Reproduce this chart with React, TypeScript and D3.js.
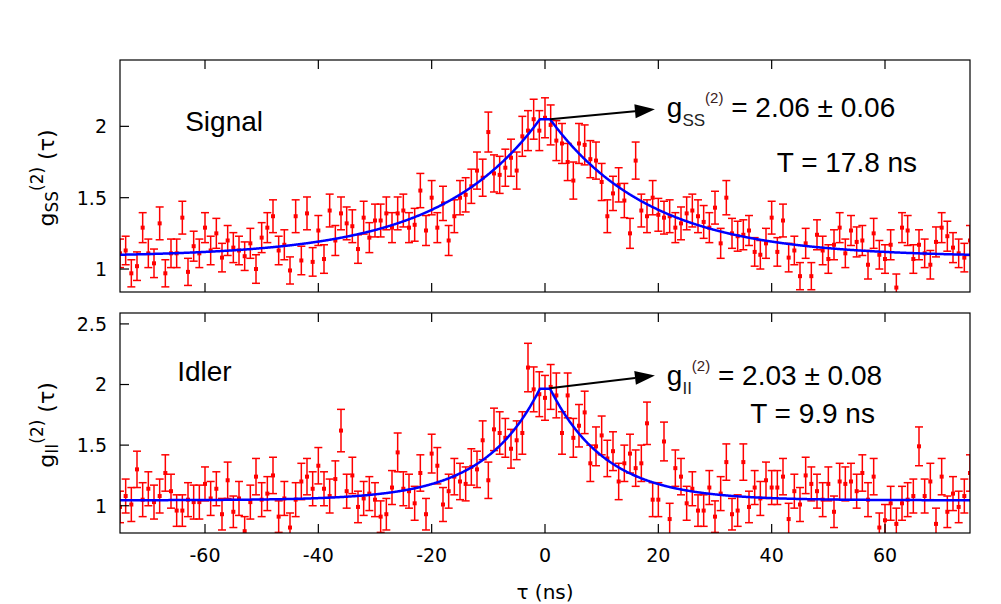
import React from 'react';
import * as d3 from 'd3';

const W = 1001;
const H = 604;

// Delay axis (ns): one point per ns from -75 to 75
const TAU_START = -75;
const TAU_END = 75;
const TAU_TICKS = [-60, -40, -20, 0, 20, 40, 60];

const SIGNAL_TICKS = [1, 1.5, 2];
const IDLER_TICKS = [1, 1.5, 2, 2.5];

// Signal g(2) measured values, tau = -75 ... 75
const SIGNAL_VALUES = [
  1.11, 1.13, 0.97, 1.02, 1.29, 1.11, 1.04, 1.32, 0.97, 1.11,
  1.11, 1.36, 0.98, 1.16, 1.11, 1.29, 1.13, 1.25, 1.08, 1.20,
  1.15, 1.13, 1.09, 1.18, 1.00, 1.22, 1.29, 1.37, 1.13, 1.17,
  0.99, 1.37, 1.06, 1.39, 1.05, 1.27, 1.07, 1.41, 1.20, 1.39,
  1.32, 1.30, 1.14, 1.36, 1.22, 1.34, 1.34, 1.39, 1.29, 1.39,
  1.41, 1.29, 1.31, 1.55, 1.27, 1.50, 1.29, 1.46, 1.20, 1.37,
  1.50, 1.52, 1.58, 1.69, 1.64, 1.96, 1.67, 1.66, 1.71, 1.78,
  1.69, 1.93, 1.97, 2.05, 1.97, 2.06, 2.01, 1.90, 1.88, 1.75,
  1.62, 1.88, 1.87, 1.77, 1.76, 1.61, 1.37, 1.53, 1.59, 1.48,
  1.25, 1.76, 1.41, 1.37, 1.50, 1.38, 1.36, 1.37, 1.29, 1.32,
  1.39, 1.41, 1.37, 1.33, 1.29, 1.43, 1.18, 1.50, 1.25, 1.23,
  1.24, 1.27, 1.12, 1.10, 1.18, 1.36, 1.12, 1.34, 1.08, 1.13,
  0.95, 1.18, 0.95, 1.24, 1.13, 1.07, 1.17, 1.29, 1.11, 1.27,
  1.19, 1.20, 1.03, 1.25, 1.10, 1.07, 1.17, 0.87, 1.29, 1.27,
  1.07, 1.17, 1.11, 1.03, 1.19, 1.29, 1.23, 1.15, 1.11, 1.08,
  1.20,
];
const SIGNAL_ERRORS = [
  0.10, 0.10, 0.095, 0.10, 0.105, 0.10, 0.10, 0.115, 0.095, 0.10,
  0.10, 0.115, 0.095, 0.105, 0.10, 0.105, 0.10, 0.105, 0.10, 0.105,
  0.105, 0.10, 0.10, 0.105, 0.10, 0.105, 0.105, 0.115, 0.10, 0.105,
  0.095, 0.115, 0.10, 0.115, 0.10, 0.105, 0.10, 0.115, 0.105, 0.115,
  0.115, 0.115, 0.10, 0.115, 0.105, 0.115, 0.115, 0.115, 0.105, 0.115,
  0.115, 0.105, 0.115, 0.12, 0.105, 0.12, 0.105, 0.12, 0.105, 0.115,
  0.12, 0.12, 0.12, 0.13, 0.13, 0.14, 0.13, 0.13, 0.13, 0.13,
  0.13, 0.14, 0.14, 0.14, 0.14, 0.14, 0.14, 0.14, 0.14, 0.13,
  0.13, 0.14, 0.14, 0.13, 0.13, 0.13, 0.115, 0.12, 0.12, 0.12,
  0.105, 0.13, 0.115, 0.115, 0.12, 0.115, 0.115, 0.115, 0.105, 0.115,
  0.115, 0.115, 0.115, 0.115, 0.105, 0.115, 0.105, 0.12, 0.105, 0.105,
  0.105, 0.105, 0.10, 0.10, 0.105, 0.115, 0.10, 0.115, 0.10, 0.10,
  0.095, 0.105, 0.095, 0.105, 0.10, 0.10, 0.105, 0.105, 0.10, 0.105,
  0.105, 0.105, 0.10, 0.105, 0.10, 0.10, 0.105, 0.095, 0.105, 0.105,
  0.10, 0.105, 0.10, 0.10, 0.105, 0.105, 0.105, 0.105, 0.10, 0.10,
  0.105,
];

// Idler g(2) measured values, tau = -75 ... 75
const IDLER_VALUES = [
  0.99, 1.08, 1.01, 1.30, 1.05, 1.14, 1.03, 1.08, 1.27, 1.12,
  0.96, 0.96, 1.05, 1.03, 1.03, 1.18, 1.06, 1.14, 0.93, 1.21,
  0.95, 1.06, 0.79, 1.03, 1.24, 1.05, 1.10, 1.25, 0.91, 1.06,
  0.82, 1.05, 1.20, 1.24, 1.14, 1.33, 1.14, 1.08, 1.22, 1.62,
  1.12, 1.25, 0.99, 1.06, 1.10, 1.05, 0.91, 0.93, 1.15, 1.44,
  1.14, 1.12, 1.02, 1.27, 0.93, 1.43, 1.33, 1.01, 1.12, 1.24,
  1.20, 1.18, 1.32, 1.30, 1.54, 1.21, 1.63, 1.60, 1.56, 1.47,
  1.54, 1.60, 2.14, 1.96, 1.92, 1.89, 1.98, 1.91, 1.60, 1.91,
  1.56, 1.66, 1.77, 1.35, 1.49, 1.58, 1.39, 1.45, 1.20, 1.35,
  1.43, 1.31, 1.35, 1.68, 1.05, 1.05, 1.53, 0.89, 1.31, 1.24,
  1.02, 1.14, 0.96, 0.96, 1.15, 0.91, 1.10, 1.36, 0.93, 0.96,
  1.36, 0.99, 1.15, 1.06, 1.21, 1.15, 1.15, 1.24, 0.89, 1.12,
  1.01, 1.25, 1.18, 1.12, 1.05, 1.18, 0.95, 1.20, 1.18, 1.20,
  1.12, 1.27, 1.05, 1.24, 0.82, 0.88, 1.02, 0.85, 1.02, 1.05,
  1.08, 1.49, 1.08, 1.20, 0.85, 1.24, 0.95, 1.10, 0.99, 1.08,
  1.27,
];
const IDLER_ERRORS = [
  0.13, 0.14, 0.14, 0.15, 0.14, 0.14, 0.14, 0.14, 0.15, 0.14,
  0.13, 0.13, 0.14, 0.14, 0.14, 0.14, 0.14, 0.14, 0.13, 0.15,
  0.13, 0.14, 0.12, 0.14, 0.15, 0.14, 0.14, 0.15, 0.13, 0.14,
  0.12, 0.14, 0.15, 0.15, 0.14, 0.15, 0.14, 0.14, 0.15, 0.175,
  0.14, 0.15, 0.13, 0.14, 0.14, 0.14, 0.13, 0.13, 0.14, 0.16,
  0.14, 0.14, 0.14, 0.15, 0.13, 0.16, 0.15, 0.14, 0.14, 0.15,
  0.15, 0.14, 0.15, 0.15, 0.16, 0.15, 0.175, 0.175, 0.16, 0.16,
  0.16, 0.175, 0.20, 0.185, 0.185, 0.185, 0.185, 0.185, 0.175, 0.185,
  0.16, 0.175, 0.175, 0.15, 0.16, 0.16, 0.15, 0.16, 0.15, 0.15,
  0.16, 0.15, 0.15, 0.175, 0.14, 0.14, 0.16, 0.13, 0.15, 0.15,
  0.14, 0.14, 0.13, 0.13, 0.14, 0.13, 0.14, 0.15, 0.13, 0.13,
  0.15, 0.13, 0.14, 0.14, 0.15, 0.14, 0.14, 0.15, 0.13, 0.14,
  0.14, 0.15, 0.14, 0.14, 0.14, 0.14, 0.13, 0.15, 0.14, 0.15,
  0.14, 0.15, 0.14, 0.15, 0.12, 0.13, 0.14, 0.13, 0.14, 0.14,
  0.14, 0.16, 0.14, 0.15, 0.13, 0.15, 0.13, 0.14, 0.13, 0.14,
  0.15,
];

// Fit parameters: g(2)(tau) = base + amp * exp(-(|tau| - flat)/T)
const SIGNAL_FIT = { base: 1.085, amp: 0.965, T: 17.8, flat: 0.9 };
const IDLER_FIT = { base: 1.045, amp: 0.92, T: 9.9, flat: 0.9 };

const AXIS_FONT = 'DejaVu Sans, Verdana, sans-serif';
const ANNOT_FONT = 'Liberation Sans, Arial, Helvetica, sans-serif';

const PLOT_LEFT = 120;
const PLOT_RIGHT = 970;

type PanelProps = {
  id: string;
  top: number;
  bottom: number;
  domain: [number, number];
  values: number[];
  errors: number[];
  fit: { base: number; amp: number; T: number; flat: number };
  ticks: number[];
  sub: string;
  name: string;
  nameAt: [number, number];
  gAt: [number, number];
  valueText: string;
  tText: string;
  tAt: [number, number];
  arrowFrom: [number, number];
  arrowTo: [number, number];
  showXLabels: boolean;
};

function Panel(p: PanelProps) {
  const x = d3.scaleLinear().domain([TAU_START, TAU_END]).range([PLOT_LEFT, PLOT_RIGHT]);
  const y = d3.scaleLinear().domain(p.domain).range([p.bottom, p.top]);
  const taus = d3.range(TAU_START, TAU_END + 1);

  const fitFn = (t: number) =>
    p.fit.base + p.fit.amp * Math.exp(-Math.max(Math.abs(t) - p.fit.flat, 0) / p.fit.T);
  const fitTaus = d3.range(TAU_START, TAU_END + 0.001, 0.1);
  const line = d3
    .line<number>()
    .x((t) => x(t))
    .y((t) => y(fitFn(t)));

  const tick = 9;
  const cap = 4;

  const ax0 = x(p.arrowFrom[0]);
  const ay0 = y(p.arrowFrom[1]);
  const ax1 = x(p.arrowTo[0]);
  const ay1 = y(p.arrowTo[1]);
  const ang = Math.atan2(ay1 - ay0, ax1 - ax0);
  const headLen = 20;
  const headW = 7;
  const bx = ax1 - headLen * Math.cos(ang);
  const by = ay1 - headLen * Math.sin(ang);
  const head = [
    [ax1, ay1],
    [bx + headW * Math.sin(ang), by - headW * Math.cos(ang)],
    [bx - headW * Math.sin(ang), by + headW * Math.cos(ang)],
  ]
    .map((q) => q.join(','))
    .join(' ');

  return (
    <g>
      <defs>
        <clipPath id={`clip-${p.id}`}>
          <rect x={PLOT_LEFT} y={p.top} width={PLOT_RIGHT - PLOT_LEFT} height={p.bottom - p.top} />
        </clipPath>
      </defs>

      {/* data */}
      <g clipPath={`url(#clip-${p.id})`}>
        {taus.map((t, i) => {
          const v = p.values[i];
          const e = p.errors[i];
          const cx = x(t);
          const y0 = y(v - e);
          const y1 = y(v + e);
          return (
            <g key={t} stroke="#ff0000" strokeWidth={1.5}>
              <line x1={cx} x2={cx} y1={y0} y2={y1} />
              <line x1={cx - cap} x2={cx + cap} y1={y0} y2={y0} />
              <line x1={cx - cap} x2={cx + cap} y1={y1} y2={y1} />
            </g>
          );
        })}
        {taus.map((t, i) => (
          <rect key={t} x={x(t) - 2} y={y(p.values[i]) - 2} width={4} height={4} fill="#ff0000" />
        ))}
        <path d={line(fitTaus) || ''} fill="none" stroke="#0000ff" strokeWidth={2.5} />
      </g>

      {/* frame */}
      <rect
        x={PLOT_LEFT}
        y={p.top}
        width={PLOT_RIGHT - PLOT_LEFT}
        height={p.bottom - p.top}
        fill="none"
        stroke="#000"
        strokeWidth={1.2}
      />
      {TAU_TICKS.map((t) => (
        <g key={t} stroke="#000" strokeWidth={1.2}>
          <line x1={x(t)} x2={x(t)} y1={p.bottom} y2={p.bottom - tick} />
          <line x1={x(t)} x2={x(t)} y1={p.top} y2={p.top + tick} />
        </g>
      ))}
      {p.ticks.map((v) => (
        <g key={v}>
          <line x1={PLOT_LEFT} x2={PLOT_LEFT + tick} y1={y(v)} y2={y(v)} stroke="#000" strokeWidth={1.2} />
          <text
            x={PLOT_LEFT - 13}
            y={y(v)}
            dy="0.36em"
            textAnchor="end"
            fontFamily={AXIS_FONT}
            fontSize={19}
            fill="#000"
          >
            {String(v)}
          </text>
        </g>
      ))}
      {p.showXLabels &&
        TAU_TICKS.map((t) => (
          <text
            key={t}
            x={x(t)}
            y={p.bottom + 29}
            textAnchor="middle"
            fontFamily={AXIS_FONT}
            fontSize={19}
            fill="#000"
          >
            {String(t)}
          </text>
        ))}

      {/* y-axis title */}
      <text
        transform={`translate(54,${(p.top + p.bottom) / 2 + 2}) rotate(-90)`}
        textAnchor="middle"
        fontFamily={AXIS_FONT}
        fontSize={22}
        fill="#000"
      >
        <tspan>g</tspan>
        <tspan fontSize={17} dy={4}>
          {p.sub}
        </tspan>
        <tspan fontSize={17} dy={-15}>
          (2)
        </tspan>
        <tspan dy={11}> (τ)</tspan>
      </text>

      {/* panel name */}
      <text x={x(p.nameAt[0])} y={y(p.nameAt[1])} fontFamily={ANNOT_FONT} fontSize={28} fill="#000">
        {p.name}
      </text>

      {/* arrow */}
      <line x1={ax0} y1={ay0} x2={bx} y2={by} stroke="#000" strokeWidth={2} />
      <polygon points={head} fill="#000" />

      {/* g2 annotation */}
      <text x={x(p.gAt[0])} y={y(p.gAt[1])} fontFamily={ANNOT_FONT} fontSize={28} fill="#000">
        <tspan>g</tspan>
        <tspan fontSize={17} dy={9} fill="#222">
          {p.sub}
        </tspan>
        <tspan fontSize={15} dy={-23} fill="#3a2020">
          (2)
        </tspan>
        <tspan dy={14}>{' = ' + p.valueText}</tspan>
      </text>
      <text x={x(p.tAt[0])} y={y(p.tAt[1])} fontFamily={ANNOT_FONT} fontSize={28} fill="#000">
        {p.tText}
      </text>
    </g>
  );
}

export default function App() {
  return (
    <svg
      width={W}
      height={H}
      viewBox={`0 0 ${W} ${H}`}
      style={{ position: 'absolute', left: 0, top: 0, background: '#fff' }}
    >
      <rect x={0} y={0} width={W} height={H} fill="#fff" />
      <Panel
        id="signal"
        top={60}
        bottom={292}
        domain={[0.839, 2.465]}
        values={SIGNAL_VALUES}
        errors={SIGNAL_ERRORS}
        fit={SIGNAL_FIT}
        ticks={SIGNAL_TICKS}
        sub="SS"
        name="Signal"
        nameAt={[-63.5, 1.965]}
        gAt={[21.5, 2.067]}
        valueText="2.06 ± 0.06"
        tText="T = 17.8 ns"
        tAt={[40.9, 1.682]}
        arrowFrom={[0.9, 2.05]}
        arrowTo={[19.4, 2.119]}
        showXLabels={false}
      />
      <Panel
        id="idler"
        top={313}
        bottom={533}
        domain={[0.775, 2.59]}
        values={IDLER_VALUES}
        errors={IDLER_ERRORS}
        fit={IDLER_FIT}
        ticks={IDLER_TICKS}
        sub="II"
        name="Idler"
        nameAt={[-64.9, 2.033]}
        gAt={[21.5, 2.0]}
        valueText="2.03 ± 0.08"
        tText="T = 9.9 ns"
        tAt={[36.2, 1.686]}
        arrowFrom={[0.8, 1.97]}
        arrowTo={[19.4, 2.074]}
        showXLabels={true}
      />
      <text x={545} y={599} textAnchor="middle" fontFamily={AXIS_FONT} fontSize={20} fill="#000">
        τ (ns)
      </text>
    </svg>
  );
}
